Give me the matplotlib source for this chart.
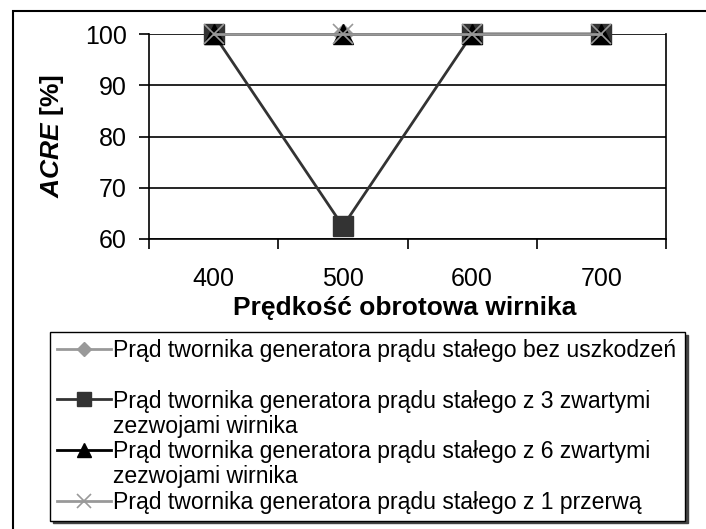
import numpy as np
import matplotlib
matplotlib.use('Agg')
import matplotlib.pyplot as plt
from matplotlib.lines import Line2D
from matplotlib.patches import Rectangle

plt.rcParams['font.family'] = ['Liberation Sans', 'DejaVu Sans']
plt.rcParams['mathtext.fontset'] = 'custom'
plt.rcParams['mathtext.it'] = 'Liberation Sans:italic:bold'

# data
predkosc = [400, 500, 600, 700]
bez_uszkodzen = [100, 100, 100, 100]
zwarte_3 = [100, 62.5, 100, 100]
zwarte_6 = [100, 100, 100, 100]
przerwa_1 = [100, 100, 100, 100]

labels = ['Prąd twornika generatora prądu stałego bez uszkodzeń',
          'Prąd twornika generatora prądu stałego z 3 zwartymi',
          'Prąd twornika generatora prądu stałego z 6 zwartymi',
          'Prąd twornika generatora prądu stałego z 1 przerwą']

W, H = 706, 529
fig = plt.figure(figsize=(W / 100, H / 100), dpi=100)
ax = fig.add_axes([149 / W, 1 - 239 / H, (666 - 149) / W, (239 - 34) / H])

# outer chart frame (cut by the image at right and bottom)
fig.patches.append(Rectangle((13 / W, -0.1), 1.2, 1.1 - 11 / H, transform=fig.transFigure,
                             fill=False, ec='black', lw=1.5))

x = np.arange(1, len(predkosc) + 1)
ax.plot(x, bez_uszkodzen, color='#999999', lw=2, marker='D', ms=10, mfc='#999999', mec='#999999',
        clip_on=False, zorder=3)
ax.plot(x, zwarte_3, color='#333333', lw=2, marker='s', ms=14, mfc='#333333', mec='#333333',
        clip_on=False, zorder=4)
ax.plot(x, zwarte_6, color='black', lw=2, marker='^', ms=14, mfc='black', mec='black',
        clip_on=False, zorder=5)
ax.plot(x, przerwa_1, color='#999999', lw=2, marker='x', ms=14, mew=1.2, mec='#999999',
        clip_on=False, zorder=6)

ax.set_xlim(0.5, len(predkosc) + 0.5)
ax.set_ylim(60, 100)
ax.set_yticks([60, 70, 80, 90, 100])
ax.set_xticks(np.arange(0.5, len(predkosc) + 1, 1))
ax.set_xticklabels([])
ax.set_xticks(x, minor=True)
ax.set_xticklabels([str(v) for v in predkosc], minor=True)
ax.tick_params(axis='x', which='major', direction='out', length=7, width=1.2)
ax.tick_params(axis='x', which='minor', length=0, pad=20, labelsize=18)
ax.tick_params(axis='y', direction='out', length=7, width=1.2, pad=9, labelsize=18)
ax.grid(axis='y', color='black', lw=1.2)
ax.set_axisbelow(True)
for s in ['left', 'bottom', 'right']:
    ax.spines[s].set_linewidth(1.2)
ax.spines['top'].set_visible(False)

fig.text(405 / W, 1 - 308 / H, 'Prędkość obrotowa wirnika', fontsize=19, fontweight='bold',
         ha='center', va='center')
fig.text(52 / W, 1 - 136 / H, r'$\mathit{ACRE}$ [%]', fontsize=19, fontweight='bold',
         rotation=90, ha='center', va='center')

# legend: blank rows keep the handle next to the first text line
blank = Line2D([], [], linestyle='none')
h1 = Line2D([], [], color='#999999', lw=2, marker='D', ms=10, mfc='#999999', mec='#999999')
h2 = Line2D([], [], color='#333333', lw=2, marker='s', ms=14, mfc='#333333', mec='#333333')
h3 = Line2D([], [], color='black', lw=2, marker='^', ms=14, mfc='black', mec='black')
h4 = Line2D([], [], color='#999999', lw=2, marker='x', ms=14, mew=1.2, mec='#999999')
leg = fig.legend([h1, blank, h2, blank, h3, blank, h4],
                 [labels[0], ' ', labels[1], 'zezwojami wirnika', labels[2], 'zezwojami wirnika', labels[3]],
                 loc='upper left', bbox_to_anchor=(50 / W, 1 - 517 / H, 635 / W, 185 / H),
                 mode='expand', borderaxespad=0,
                 fontsize=16.6, markerscale=0.75, handlelength=2.35, handletextpad=0.1,
                 labelspacing=0.1, borderpad=0.3, fancybox=False, frameon=True,
                 shadow={'color': '#444444', 'alpha': 1})
leg.get_frame().set_edgecolor('black')
leg.get_frame().set_linewidth(1.0)

fig.savefig('out.png', dpi=100)
